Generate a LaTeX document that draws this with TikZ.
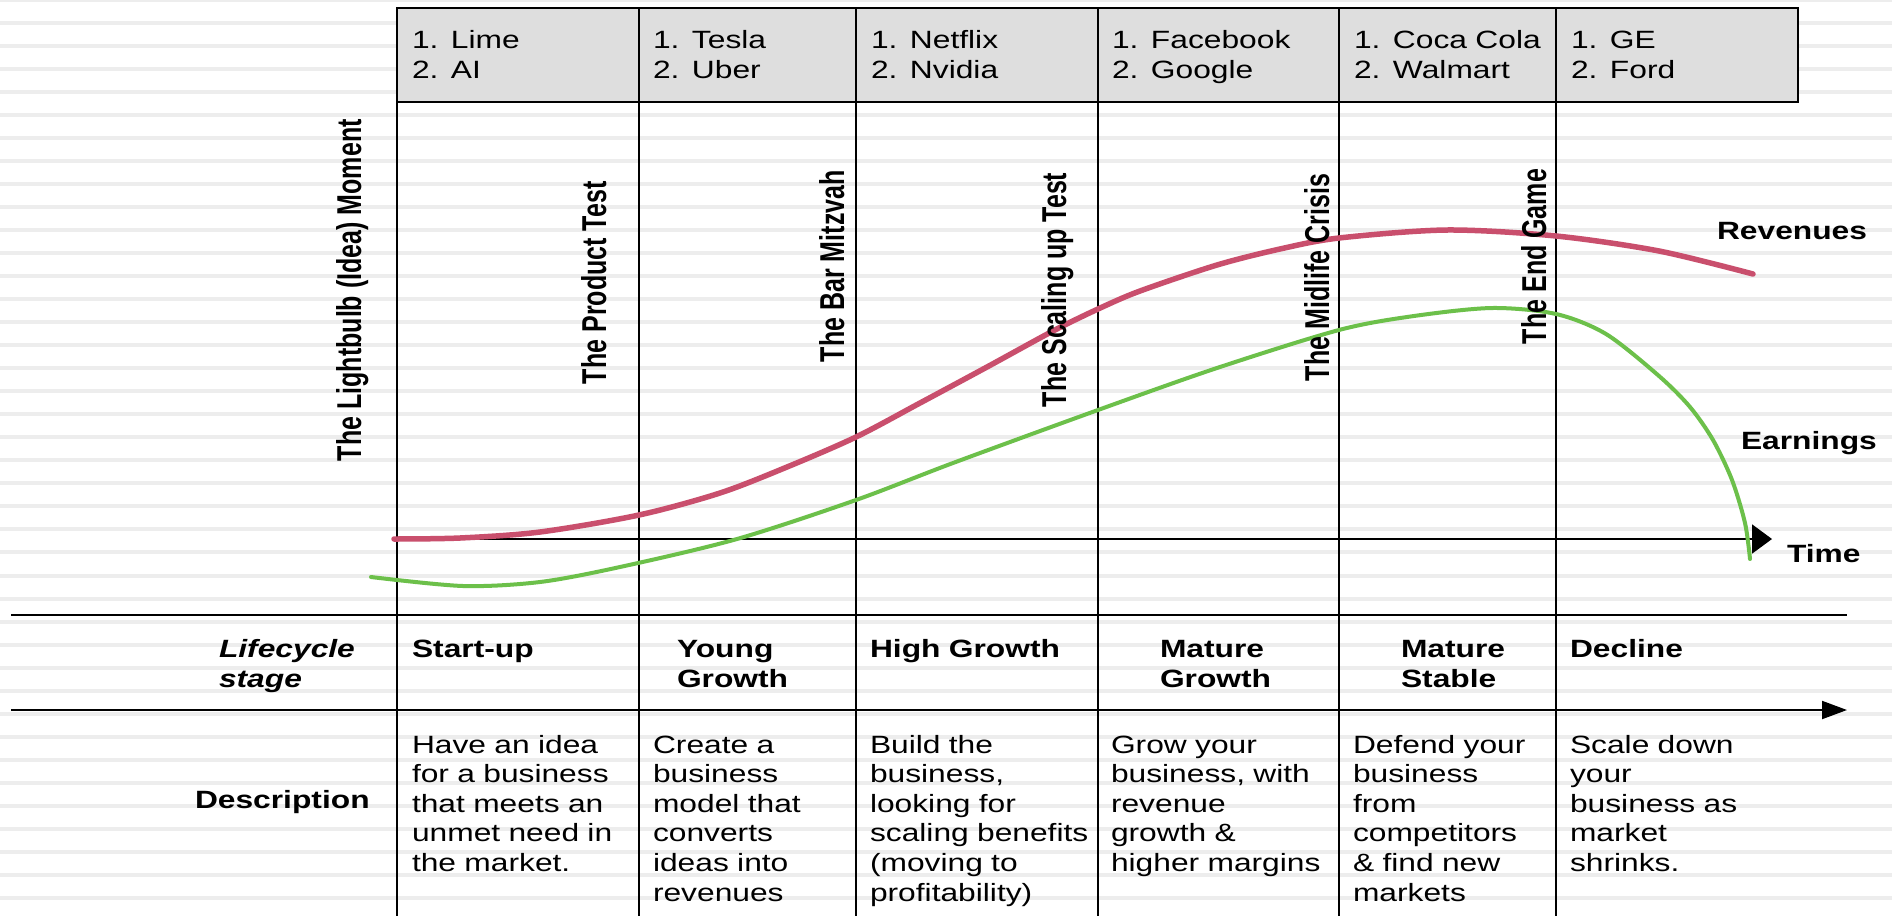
\documentclass[tikz,border=0pt]{standalone}
\usepackage{fontspec}
\setmainfont{Liberation Sans}[FakeStretch=1.27]
\newfontfamily\rotfont{Liberation Sans}
\usetikzlibrary{arrows.meta}
\definecolor{revcol}{HTML}{C94F6D}
\definecolor{earncol}{HTML}{6CC04A}
\definecolor{hdrgray}{HTML}{DEDEDE}
\definecolor{stripecol}{HTML}{EDEDED}
\newcommand{\rotlabel}[1]{\scalebox{1}[1.38]{\rotfont\bfseries\fontsize{25}{30}\selectfont #1}}
\begin{document}
\begin{tikzpicture}[x=1pt,y=-1pt,
  stripe/.style={line width=4pt, draw=stripecol},
  rule/.style={line width=2pt, draw=black},
  txt/.style={inner sep=0pt, outer sep=0pt, anchor=base west, text width=260pt, align=left, font=\fontsize{25}{29.6}\selectfont},
  btxt/.style={txt, font=\fontsize{25}{30}\selectfont\bfseries},
  htxt/.style={txt, font=\fontsize{25}{30}\selectfont},
  rot/.style={inner sep=0pt, outer sep=0pt, rotate=90, anchor=base west},
  curve/.style={line cap=round, line join=round}]
\useasboundingbox (0,0) rectangle (1892,916);
\fill[white] (0,0) rectangle (1892,916);
\foreach \k in {0,...,39} \draw[stripe] (0,\k*23.02) -- (1892,\k*23.02);

% header box
\draw[fill=hdrgray, line width=2.5pt] (397,8) rectangle (1798,102);
% column lines
\foreach \x in {397,639,856,1098,1339,1556} \draw[rule] (\x,8) -- (\x,916);

% horizontal rules and axes
\coordinate (lcL) at (11,615); \coordinate (lcR) at (1847,615);
\draw[rule] (lcL) -- (lcR);
\coordinate (dsL) at (11,710); \coordinate (dsR) at (1847,710);
\draw[rule, -{Triangle[length=25pt,width=18pt]}] (dsL) -- (dsR);
\coordinate (t0) at (397,539); \coordinate (t1) at (1772,539);
\draw[rule, -{Triangle[length=20pt,width=29pt]}] (t0) -- (t1);

% curves
\draw[curve, revcol, line width=5.5pt] plot[smooth, tension=0.5] coordinates {
 (394,539) (460,538) (540,532) (639,515) (720,493) (787,467) (856,437)
 (920,403) (987,367) (1053,331) (1098,309) (1140,291) (1217,265) (1280,249)
 (1339,238) (1447,230) (1556,236) (1659,251) (1753,274)};
\draw[curve, earncol, line width=4pt] plot[smooth, tension=0.5] coordinates {
 (371,577) (463,586) (540,582) (620,567) (737,539) (856,500) (953,463)
 (1098,410) (1217,368) (1339,330) (1414,316) (1492,308) (1556,314)
 (1606,334) (1659,376) (1690,407) (1713,440) (1732,480) (1745,523) (1750,559)};

% header texts
\node[htxt] (h1) at (412,48) {1. Lime\\2. AI};
\node[htxt] (h2) at (653,48) {1. Tesla\\2. Uber};
\node[htxt] (h3) at (871,48) {1. Netflix\\2. Nvidia};
\node[htxt] (h4) at (1112,48) {1. Facebook\\2. Google};
\node[htxt] (h5) at (1354,48) {1. Coca Cola\\2. Walmart};
\node[htxt] (h6) at (1571,48) {1. GE\\2. Ford};

% rotated milestone labels
\node[rot] (m1) at (361,461) {\rotlabel{The Lightbulb (Idea) Moment}};
\node[rot] (m2) at (606,384) {\rotlabel{The Product Test}};
\node[rot] (m3) at (844,362) {\rotlabel{The Bar Mitzvah}};
\node[rot] (m4) at (1066,407) {\rotlabel{The Scaling up Test}};
\node[rot] (m5) at (1329,381) {\rotlabel{The Midlife Crisis}};
\node[rot] (m6) at (1546,344) {\rotlabel{The End Game}};

% curve labels
\node[btxt] (rev) at (1717,239) {Revenues};
\node[btxt] (earn) at (1741,449) {Earnings};
\node[btxt] (time) at (1787,562) {Time};

% row labels
\node[btxt, font=\fontsize{25}{30}\selectfont\bfseries\itshape] (lc) at (219,657) {Lifecycle\\stage};
\node[btxt] (desc) at (195,808) {Description};

% stages
\node[btxt] (s1) at (412,657) {Start-up};
\node[btxt] (s2) at (677,657) {Young\\Growth};
\node[btxt] (s3) at (870,657) {High Growth};
\node[btxt] (s4) at (1160,657) {Mature\\Growth};
\node[btxt] (s5) at (1401,657) {Mature\\Stable};
\node[btxt] (s6) at (1570,657) {Decline};

% descriptions
\node[txt] (d1) at (412,753) {Have an idea\\for a business\\that meets an\\unmet need in\\the market.};
\node[txt] (d2) at (653,753) {Create a\\business\\model that\\converts\\ideas into\\revenues};
\node[txt] (d3) at (870,753) {Build the\\business,\\looking for\\scaling benefits\\(moving to\\profitability)};
\node[txt] (d4) at (1111,753) {Grow your\\business, with\\revenue\\growth \&\\higher margins};
\node[txt] (d5) at (1353,753) {Defend your\\business\\from\\competitors\\\& find new\\markets};
\node[txt] (d6) at (1570,753) {Scale down\\your\\business as\\market\\shrinks.};
\end{tikzpicture}
\end{document}
